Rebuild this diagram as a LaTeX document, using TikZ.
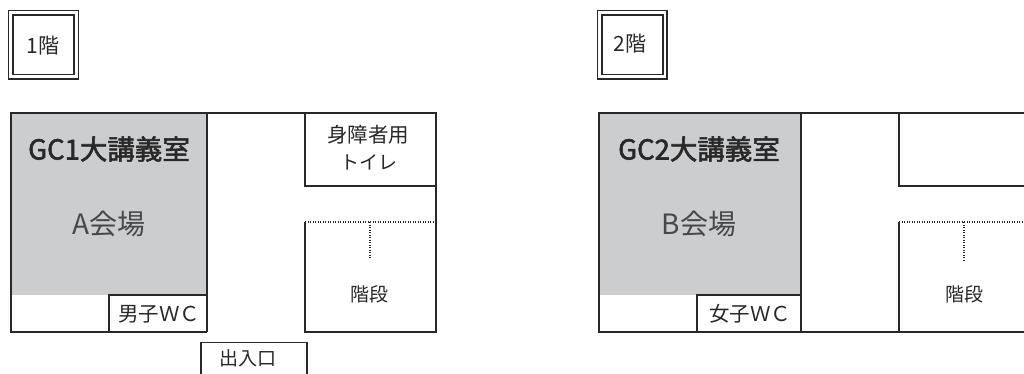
\documentclass[tikz,border=0pt]{standalone}
\usepackage{fontspec}
\setmainfont{Noto Sans CJK JP}
\newfontfamily\bfjp[FakeBold=2]{Noto Sans CJK JP}
\definecolor{hall}{RGB}{204,205,207}
\definecolor{ink}{RGB}{40,40,40}
\tikzset{
  x=1pt,y=-1pt,
  wall/.style={draw=ink,line width=1.5pt},
  frame/.style={draw=ink,line width=1.2pt},
  dots/.style={draw=ink,line width=1.5pt,dash pattern=on 1.2pt off 1.3pt},
  floorlabel/.style={inner sep=0pt,text=ink,font=\fontsize{21}{23}\selectfont},
  label/.style={inner sep=0pt,text=ink,font=\fontsize{19}{21}\selectfont},
  widelabel/.style={inner sep=0pt,text=ink,font=\fontsize{20.5}{23}\selectfont},
  hallname/.style={inner sep=0pt,text=ink,font=\bfjp\fontsize{27.5}{30}\selectfont},
  venue/.style={inner sep=0pt,text=ink!85,font=\fontsize{28}{30}\selectfont},
}
\begin{document}
\begin{tikzpicture}
\useasboundingbox (0,0) rectangle (1024,374);
% floor labels
\draw[frame] (8.5,10.5) rectangle (78.5,79);
\draw[frame] (13,15) rectangle (74,74.5);
\node[floorlabel] (f1) at (43,46) {1階};
\draw[frame] (597.5,10.5) rectangle (667,79);
\draw[frame] (602,15) rectangle (663,74.5);
\node[floorlabel] (f2) at (630,44) {2階};
% first floor
\fill[hall] (11,113) rectangle (207,295);
\draw[wall] (207,332) -- (11,332) -- (11,113) -- (436,113) -- (436,332) -- (305,332) -- (305,222);
\draw[wall] (207,113) -- (207,332);
\draw[wall] (109,332) -- (109,295) -- (207,295);
\draw[wall] (305,113) -- (305,186) -- (436,186);
\draw[dots] (305,222) -- (436,222);
\draw[dots] (370,222) -- (370,258);
\draw[wall] (201,374) -- (201,342.5) -- (307,342.5) -- (307,374);
\node[hallname] (h1) at (109,149) {GC1大講義室};
\node[venue] (v1) at (109,224) {A会場};
\node[widelabel] (t1) at (368,135) {身障者用};
\node[label] (t2) at (369,162) {トイレ};
\node[label] (s1) at (369.5,294) {階段};
\node[widelabel] (w1) at (159,314) {男子ＷＣ};
\node[label] (e1) at (248,358) {出入口};
% second floor
\fill[hall] (599,113) rectangle (801,295);
\draw[wall] (1024,113) -- (599,113) -- (599,332) -- (1024,332);
\draw[wall] (801,113) -- (801,332);
\draw[wall] (697,332) -- (697,295) -- (801,295);
\draw[wall] (1024,186) -- (899,186) -- (899,113);
\draw[wall] (899,332) -- (899,222);
\draw[dots] (899,222) -- (1024,222);
\draw[dots] (964,222) -- (964,260);
\node[hallname] (h2) at (699,149) {GC2大講義室};
\node[venue] (v2) at (699,224) {B会場};
\node[label] (s2) at (964,294) {階段};
\node[widelabel] (w2) at (750,314) {女子ＷＣ};
\end{tikzpicture}
\end{document}
